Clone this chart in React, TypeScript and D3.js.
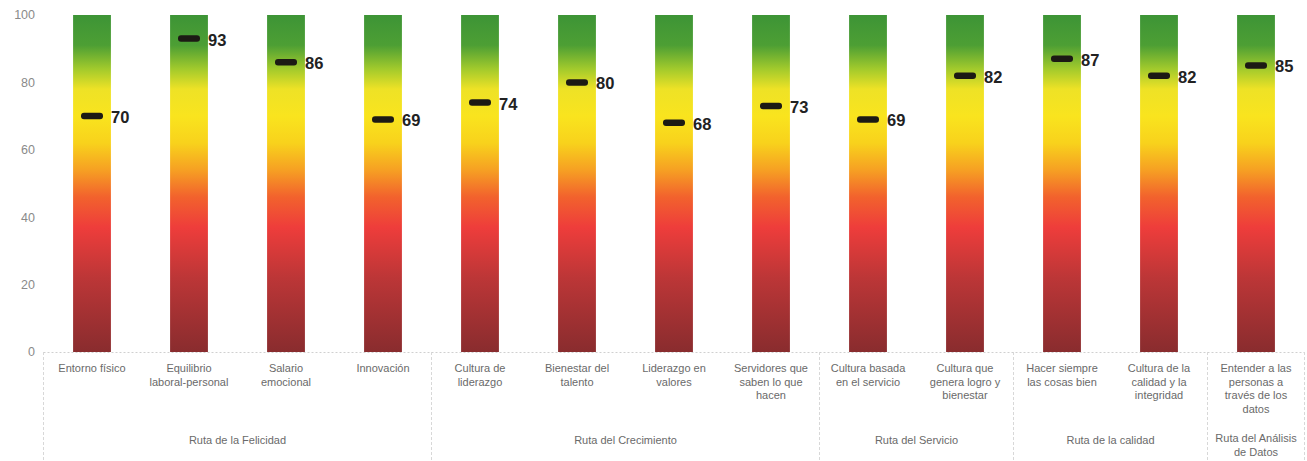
import React from "react";
import * as d3 from "d3";

const categories: string[][] = [
  ["Entorno físico"],
  ["Equilibrio", "laboral-personal"],
  ["Salario", "emocional"],
  ["Innovación"],
  ["Cultura de", "liderazgo"],
  ["Bienestar del", "talento"],
  ["Liderazgo en", "valores"],
  ["Servidores que", "saben lo que", "hacen"],
  ["Cultura basada", "en el servicio"],
  ["Cultura que", "genera logro y", "bienestar"],
  ["Hacer siempre", "las cosas bien"],
  ["Cultura de la", "calidad y la", "integridad"],
  ["Entender a las", "personas a", "través de los", "datos"],
];
const values: number[] = [70, 93, 86, 69, 74, 80, 68, 73, 69, 82, 87, 82, 85];
const groups: string[][] = [
  ["Ruta de la Felicidad"],
  ["Ruta del Crecimiento"],
  ["Ruta del Servicio"],
  ["Ruta de la calidad"],
  ["Ruta del Análisis", "de Datos"],
];
const groupSizes: number[] = [4, 4, 2, 2, 1];
const yTicks: number[] = [0, 20, 40, 60, 80, 100];

const W = 1307;
const H = 461;
const left = 43.5;
const right = 1304.5;
const top = 15;
const bottom = 352;

const gradientStops: [number, string][] = [
  [0, "#3d9436"],
  [0.09, "#4d9f34"],
  [0.16, "#a2ca2c"],
  [0.22, "#eee226"],
  [0.3, "#f9e41e"],
  [0.38, "#f8d21c"],
  [0.46, "#f6a023"],
  [0.54, "#f2622d"],
  [0.63, "#ee3d3b"],
  [0.78, "#bc3637"],
  [1, "#892c2e"],
];

export default function App() {
  const ids = categories.map((_, i) => String(i));
  const x = d3.scaleBand<string>().domain(ids).range([left, right]).paddingInner(0).paddingOuter(0);
  const y = d3.scaleLinear().domain([0, 100]).range([bottom, top]);
  const barW = x.bandwidth() * 0.39;

  let acc = 0;
  const groupBounds = groupSizes.map((n) => {
    const s = acc;
    acc += n;
    return [s, acc];
  });
  const posAt = (i: number) => left + i * x.step();

  const labelFont = "'Liberation Sans', Arial, sans-serif";

  return (
    <svg width={W} height={H} style={{ position: "absolute", left: 0, top: 0, background: "#fff" }}>
      <defs>
        <linearGradient id="barGrad" x1="0" y1="0" x2="0" y2="1">
          {gradientStops.map(([o, c], i) => (
            <stop key={i} offset={o} stopColor={c} />
          ))}
        </linearGradient>
      </defs>
      {yTicks.map((t) => (
        <text
          key={t}
          x={35}
          y={y(t)}
          dy="0.35em"
          textAnchor="end"
          fontFamily={labelFont}
          fontSize={12.5}
          fill="#8a8a8a"
        >
          {t}
        </text>
      ))}
      <line x1={left} x2={right} y1={bottom + 0.5} y2={bottom + 0.5} stroke="#d0d0d0" strokeDasharray="2,2" />
      {[0, ...groupBounds.map((g) => g[1])].map((b, i) => (
        <line
          key={i}
          x1={posAt(b)}
          x2={posAt(b)}
          y1={bottom}
          y2={H}
          stroke="#d8d8d8"
          strokeDasharray="3,2"
        />
      ))}
      {ids.map((id) => (
        <rect
          key={id}
          x={(x(id) as number) + (x.bandwidth() - barW) / 2}
          y={y(100)}
          width={barW}
          height={y(0) - y(100)}
          fill="url(#barGrad)"
        />
      ))}
      {ids.map((id, i) => {
        const cx = (x(id) as number) + x.bandwidth() / 2;
        return (
          <g key={id}>
            <rect x={cx - 11} y={y(values[i]) - 3.25} width={22} height={6.5} rx={3} fill="#1c1a14" />
            <text
              x={cx + 19}
              y={y(values[i])}
              dy="0.42em"
              fontFamily={labelFont}
              fontWeight="bold"
              fontSize={16.5}
              fill="#222"
            >
              {values[i]}
            </text>
          </g>
        );
      })}
      {ids.map((id, i) => {
        const cx = (x(id) as number) + x.bandwidth() / 2;
        return (
          <text key={id} textAnchor="middle" fontFamily={labelFont} fontSize={11} fill="#6a6a6a">
            {categories[i].map((l, j) => (
              <tspan key={j} x={cx} y={372 + j * 13.5}>
                {l}
              </tspan>
            ))}
          </text>
        );
      })}
      {groupBounds.map(([s, e], i) => {
        const cx = (posAt(s) + posAt(e)) / 2;
        const lines = groups[i];
        const y0 = lines.length > 1 ? 442 : 444;
        return (
          <text key={i} textAnchor="middle" fontFamily={labelFont} fontSize={11} fill="#6a6a6a">
            {lines.map((l, j) => (
              <tspan key={j} x={cx} y={y0 + j * 13.5}>
                {l}
              </tspan>
            ))}
          </text>
        );
      })}
    </svg>
  );
}
